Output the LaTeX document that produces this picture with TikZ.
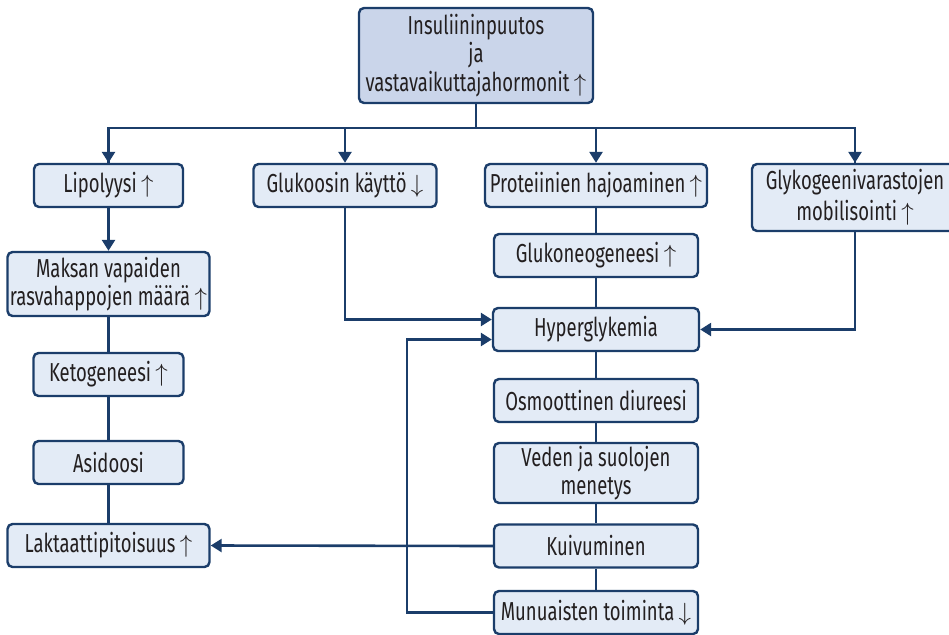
\documentclass[tikz,border=0pt]{standalone}
\usepackage{fontspec}
\setmainfont[FakeStretch=0.71]{Fira Sans}
\usepackage{xcolor}
\usetikzlibrary{arrows.meta}
\definecolor{navy}{HTML}{1B3D6A}
\definecolor{pale}{HTML}{E3EBF6}
\definecolor{paletop}{HTML}{CAD5EA}
\definecolor{ink}{HTML}{231F20}
\colorlet{box edge}{navy}
\colorlet{box area}{pale}
\newcommand\incr{\,$\uparrow$}
\newcommand\decr{\,$\downarrow$}
\tikzset{stage/.style={draw=box edge, fill=box area, line width=2.4pt, rounded corners=5pt,
        align=center, inner sep=0pt, minimum height=43pt, text=ink,
        font=\fontsize{26}{28.5}\selectfont},
    topstage/.style={stage, fill=paletop, minimum height=95pt},
    link/.style={draw=box edge, line width=2.6pt},
    flow/.style={link, -{Triangle[width=13pt,length=11pt]}}}

\begin{document}
\begin{tikzpicture}[x=1pt, y=-1pt]
    \useasboundingbox (0,0) rectangle (949,634);
    % top of the chart
    \node[topstage, minimum width=234pt] (insulin) at (476,55.5)
        {Insuliininpuutos\\ja\\vastavaikuttajahormonit\incr};
    \coordinate (split) at (476,128);
    % first row
    \node[stage, minimum width=149pt] (lipo)   at (108.5,185.5) {Lipolyysi\incr};
    \node[stage, minimum width=183pt] (gluk)   at (345,185.5)   {Glukoosin käyttö\decr};
    \node[stage, minimum width=222pt] (prot)   at (596,185.5)   {Proteiinien hajoaminen\incr};
    \node[stage, minimum width=206pt, minimum height=67pt] (glyk) at (855,197.5)
        {Glykogeenivarastojen\\[2pt]mobilisointi\incr};
    % left column
    \node[stage, minimum width=202pt, minimum height=64pt] (maksa) at (108.5,284)
        {Maksan vapaiden\\rasvahappojen määrä\incr};
    \node[stage, minimum width=150pt] (keto)   at (108.5,374.5) {Ketogeneesi\incr};
    \node[stage, minimum width=150pt] (asid)   at (108.5,462.5) {Asidoosi};
    \node[stage, minimum width=202pt] (lakt)   at (108.5,545.5) {Laktaattipitoisuus\incr};
    % right column
    \node[stage, minimum width=204pt] (neo)    at (596,255.5) {Glukoneogeneesi\incr};
    \node[stage, minimum width=206pt] (hyper)  at (596,329.5) {Hyperglykemia};
    \node[stage, minimum width=204pt] (osmo)   at (596,400.5) {Osmoottinen diureesi};
    \node[stage, minimum width=204pt, minimum height=60pt] (vesi) at (596,473)
        {Veden ja suolojen\\menetys};
    \node[stage, minimum width=204pt] (kuiv)   at (596,546)   {Kuivuminen};
    \node[stage, minimum width=204pt] (munu)   at (596,612.5) {Munuaisten toiminta\decr};

    \draw[link] (insulin.south) -- (split);
    \foreach \n in {lipo,gluk,prot,glyk}
        \draw[flow] (split) -| (\n.north);
    \draw[link] (split) -| (lipo.north);
    \draw[link] (split) -| (glyk.north);

    \draw[flow] (lipo) -- (maksa);
    \draw[link] (maksa) -- (keto) -- (asid) -- (lakt);
    \draw[link] (prot) -- (neo) -- (hyper) -- (osmo) -- (vesi) -- (kuiv) -- (munu);

    \draw[flow] (gluk.south) |- ([yshift=10pt]hyper.west);
    \draw[flow] (glyk.south) |- (hyper.east);
    \draw[flow] (munu.west) -- ++(-86,0) |- ([yshift=-10pt]hyper.west);
    \draw[flow] (kuiv.west) -- (lakt.east);
\end{tikzpicture}
\end{document}
